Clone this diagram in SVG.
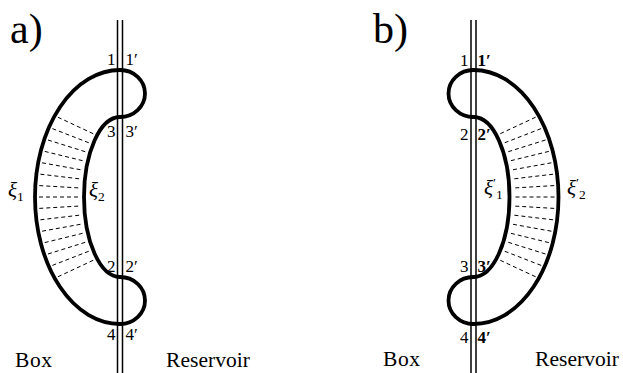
<svg xmlns="http://www.w3.org/2000/svg" width="623" height="373" viewBox="0 0 623 373">
<style>
.wall{stroke:#000;stroke-width:1.5;fill:none}
.thick{stroke:#000;stroke-width:3.8;fill:none;stroke-linecap:round;stroke-linejoin:round}
.dash{stroke:#000;stroke-width:1;fill:none;stroke-dasharray:4 3}
.t{font-family:"Liberation Serif","Times New Roman",Tinos,"Noto Serif","DejaVu Serif",FreeSerif,"Nimbus Roman",Times,serif;fill:#000}
.big{font-size:42px}
.num{font-size:17px}
.bnum{font-size:17px;font-weight:bold}
.lbl{font-size:21.5px}
.xi{font-size:21px;font-style:italic}
.sub{font-size:13.5px;font-style:normal}
.end{text-anchor:end}
</style>
<defs>
<g id="shape">
<path class="thick" d="M120,70 A85,127 0 0 0 120,324"/>
<path class="thick" d="M120,117 A36,80 0 0 0 120,277"/>
<path class="thick" d="M120,70 A25,23.5 0 0 1 120,117"/>
<path class="thick" d="M120,277 A25,23.5 0 0 1 120,324"/>
<g class="dash">
<line x1="57.9" y1="117.2" x2="93.8" y2="134"/>
<line x1="52.4" y1="128.6" x2="89.4" y2="143"/>
<line x1="48" y1="140" x2="86.2" y2="152"/>
<line x1="44.7" y1="151.4" x2="83.9" y2="161"/>
<line x1="42.1" y1="162.8" x2="82.1" y2="170"/>
<line x1="40.4" y1="174.2" x2="80.9" y2="179"/>
<line x1="39.3" y1="185.6" x2="80.2" y2="188"/>
<line x1="39" y1="197" x2="80" y2="197"/>
<line x1="39.3" y1="208.4" x2="80.2" y2="206"/>
<line x1="40.4" y1="219.8" x2="80.9" y2="215"/>
<line x1="42.1" y1="231.2" x2="82.1" y2="224"/>
<line x1="44.7" y1="242.6" x2="83.9" y2="233"/>
<line x1="48" y1="254" x2="86.2" y2="242"/>
<line x1="52.4" y1="265.4" x2="89.4" y2="251"/>
<line x1="57.9" y1="276.8" x2="93.8" y2="260"/>
</g>
</g>
</defs>

<g id="panel-a">
<line class="wall" x1="117.5" y1="20" x2="117.5" y2="373"/>
<line class="wall" x1="122.5" y1="20" x2="122.5" y2="373"/>
<use href="#shape"/>
<text class="t big" x="10" y="43">a)</text>
<text class="t num end" x="115.5" y="65">1</text>
<text class="t num" x="125.5" y="65">1′</text>
<text class="t num end" x="115.5" y="137">3</text>
<text class="t num" x="125.5" y="137">3′</text>
<text class="t num end" x="115.5" y="272">2</text>
<text class="t num" x="125.5" y="272">2′</text>
<text class="t num end" x="115.5" y="340">4</text>
<text class="t num" x="125.5" y="340">4′</text>
<text class="t xi" x="8" y="197">ξ<tspan class="sub" dy="4">1</tspan></text>
<text class="t xi" x="89" y="197">ξ<tspan class="sub" dy="4">2</tspan></text>
<text class="t lbl" x="15" y="367" textLength="37">Box</text>
<text class="t lbl" x="166" y="367" textLength="84">Reservoir</text>
</g>

<g id="panel-b">
<line class="wall" x1="471" y1="20" x2="471" y2="373"/>
<line class="wall" x1="476" y1="20" x2="476" y2="373"/>
<use href="#shape" transform="matrix(-1,0,0,1,593.5,0)"/>
<text class="t big" x="373" y="43">b)</text>
<text class="t num end" x="468.5" y="66">1</text>
<text class="t bnum" x="477.5" y="66">1′</text>
<text class="t num end" x="468.5" y="140">2</text>
<text class="t bnum" x="477.5" y="140">2′</text>
<text class="t num end" x="468.5" y="272">3</text>
<text class="t bnum" x="477.5" y="272">3′</text>
<text class="t num end" x="468.5" y="343">4</text>
<text class="t bnum" x="477.5" y="343">4′</text>
<text class="t xi" x="484" y="195">ξ<tspan class="sub" dy="-8">′</tspan><tspan class="sub" dy="12">1</tspan></text>
<text class="t xi" x="567" y="195">ξ<tspan class="sub" dy="-8">′</tspan><tspan class="sub" dy="12">2</tspan></text>
<text class="t lbl" x="383" y="366" textLength="37">Box</text>
<text class="t lbl" x="535" y="366" textLength="84">Reservoir</text>
</g>
</svg>
